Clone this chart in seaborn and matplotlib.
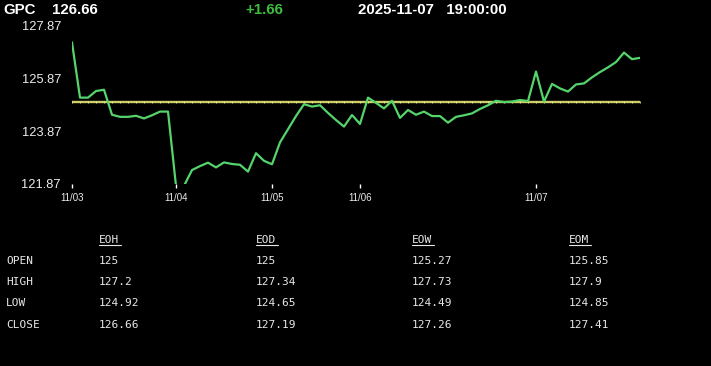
import numpy as np
import pandas as pd
import matplotlib
matplotlib.use("Agg")
import matplotlib.pyplot as plt
import seaborn as sns
from matplotlib.lines import Line2D

# ---------------- data ----------------
symbol = "GPC"
last_price = "126.66"
change = "+1.66"
timestamp = "2025-11-07   19:00:00"

prices = [127.25, 125.15, 125.15, 125.40, 125.45, 124.50, 124.42, 124.42,
          124.46, 124.36, 124.48, 124.62, 124.62, 121.80, 121.80, 122.40,
          122.55, 122.68, 122.50, 122.69, 122.63, 122.60, 122.34, 123.04,
          122.75, 122.62, 123.45, 123.95, 124.45, 124.90, 124.81, 124.86,
          124.57, 124.30, 124.05, 124.49, 124.15, 125.15, 124.95, 124.74,
          125.03, 124.38, 124.68, 124.50, 124.62, 124.45, 124.45, 124.20,
          124.42, 124.48, 124.55, 124.72, 124.86, 125.03, 124.98, 125.00,
          125.06, 125.02, 126.14, 125.00, 125.67, 125.50, 125.38, 125.65,
          125.69, 125.92, 126.12, 126.30, 126.50, 126.86, 126.61, 126.66]
ref_price = 125.0

x_tick_pos = [0, 13, 25, 36, 58]
x_tick_labels = ["11/03", "11/04", "11/05", "11/06", "11/07"]
y_ticks = [121.87, 123.87, 125.87, 127.87]

col_headers = ["EOH", "EOD", "EOW", "EOM"]
row_labels = ["OPEN", "HIGH", "LOW", "CLOSE"]
eoh = ["125", "127.2", "124.92", "126.66"]
eod = ["125", "127.34", "124.65", "127.19"]
eow = ["125.27", "127.73", "124.49", "127.26"]
eom = ["125.85", "127.9", "124.85", "127.41"]

# ---------------- style ----------------
sns.set_style("dark", {"axes.facecolor": "black", "figure.facecolor": "black"})
plt.rcParams["font.family"] = ["Liberation Sans", "DejaVu Sans"]

W, H = 711, 366
fig = plt.figure(figsize=(W / 100, H / 100), dpi=100, facecolor="black")

def fx(px):
    return px / W

def fy(py):
    return 1 - py / H

ax = fig.add_axes([fx(72), fy(184), fx(640) - fx(72), fy(26) - fy(184)])
ax.set_facecolor("black")

df = pd.DataFrame({"idx": np.arange(len(prices)), "price": prices})

# reference line with faint markers
ax.axhline(ref_price, color="#cfcf68", linewidth=1.7, zorder=1)
ax.scatter(df["idx"], [ref_price] * len(df), marker="|", s=2.5,
           color="#e6e6a8", linewidths=0.6, zorder=2)

sns.lineplot(data=df, x="idx", y="price", ax=ax, color="#55d46c",
             linewidth=1.6, zorder=3)
for ln in ax.lines:
    ln.set_solid_joinstyle("round")
    ln.set_solid_capstyle("round")

ax.set_xlim(0, len(prices) - 1)
ax.set_ylim(y_ticks[0], y_ticks[-1])
ax.set_xlabel("")
ax.set_ylabel("")
ax.grid(False)
for s in ax.spines.values():
    s.set_visible(False)

ax.set_yticks(y_ticks)
ax.set_yticklabels([f"{v:.2f}" for v in y_ticks])
ax.set_xticks(x_tick_pos)
ax.set_xticklabels(x_tick_labels)
ax.tick_params(axis="y", length=0, pad=8, labelsize=9.3, labelcolor="#ececec")
ax.tick_params(axis="x", length=3, width=1, color="white", pad=3.5,
               labelsize=7, labelcolor="#ececec", direction="out", bottom=True)

# ---------------- header ----------------
hdr = dict(fontsize=10.8, fontweight="bold", va="baseline", ha="left")
fig.text(fx(3), fy(14), symbol, color="white", **hdr)
fig.text(fx(52), fy(14), last_price, color="white", **hdr)
fig.text(fx(245), fy(14), change, color="#3dbd3d", **hdr)
fig.text(fx(358), fy(14), timestamp, color="white", **hdr)

# ---------------- table ----------------
mono = dict(family="DejaVu Sans Mono", fontsize=8, color="#e8e8e8",
            va="baseline", ha="left")
col_x = [99, 256, 412, 569]
row_y = [264, 285, 306.5, 328.5]
header_y = 243
columns = [eoh, eod, eow, eom]

for cx, name in zip(col_x, col_headers):
    fig.text(fx(cx), fy(header_y), name, **mono)
    fig.add_artist(Line2D([fx(cx), fx(cx + 22)], [fy(header_y + 2), fy(header_y + 2)],
                          color="#e8e8e8", linewidth=0.8))

for ry, lab in zip(row_y, row_labels):
    fig.text(fx(6), fy(ry), lab, **mono)

for cx, col in zip(col_x, columns):
    for ry, val in zip(row_y, col):
        fig.text(fx(cx), fy(ry), val, **mono)

fig.savefig("out.png", dpi=100, facecolor="black")
